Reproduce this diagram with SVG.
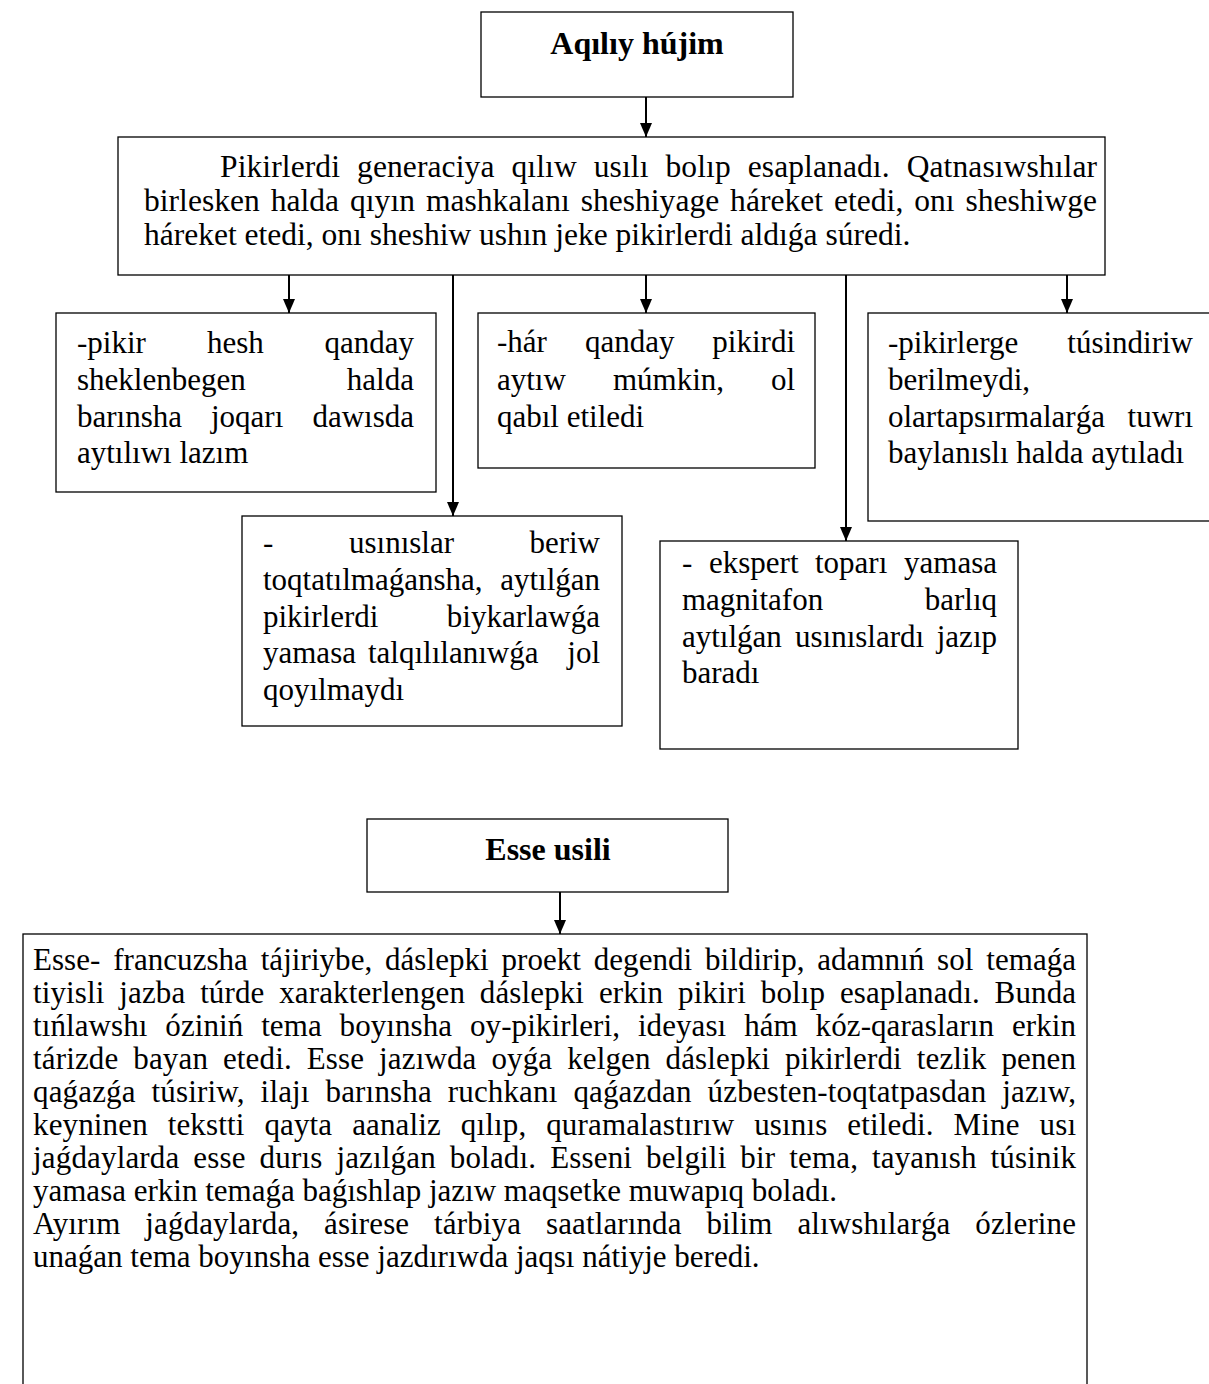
<svg xmlns="http://www.w3.org/2000/svg" width="1209" height="1384" viewBox="0 0 1209 1384">
<defs>
<style>
.box{fill:#fff;stroke:#000;stroke-width:1.3}
.t{font-family:"Liberation Serif","Times New Roman",serif;font-size:31px;fill:#000}
.m{font-family:"Liberation Serif","Times New Roman",serif;font-size:31.5px;fill:#000}
.b{font-family:"Liberation Serif","Times New Roman",serif;font-size:32px;font-weight:bold;fill:#000}
.e{text-anchor:end}
.c{text-anchor:middle}
.con{stroke:#000;stroke-width:2;fill:none}
</style>
<marker id="ah" markerUnits="userSpaceOnUse" markerWidth="14" markerHeight="12" refX="14" refY="6" orient="auto">
<path d="M0,0 L14,6 L0,12 z" fill="#000"/>
</marker>
</defs>
<rect width="1209" height="1384" fill="#fff"/>

<g id="title1">
<rect class="box" x="481" y="12" width="312" height="85"/>
<text class="b c" x="637" y="54">Aqılıy hújim</text>
</g>

<g id="main">
<rect class="box" x="118" y="137" width="987" height="138"/>
<text class="m" x="220" y="177" textLength="877" lengthAdjust="spacing" style="word-spacing:9px">Pikirlerdi generaciya qılıw usılı bolıp esaplanadı. Qatnasıwshılar</text>
<text class="m" x="144" y="211" textLength="953" lengthAdjust="spacing" style="word-spacing:3px">birlesken halda qıyın mashkalanı sheshiyage háreket etedi, onı sheshiwge</text>
<text class="m" x="144" y="245">háreket etedi, onı sheshiw ushın jeke pikirlerdi aldıǵa súredi.</text>
</g>

<g id="box1">
<rect class="box" x="56" y="313" width="380" height="179"/>
<text class="t" x="77" y="353">-pikir</text><text class="t" x="207" y="353">hesh</text><text class="t e" x="414" y="353">qanday</text>
<text class="t" x="77" y="390">sheklenbegen</text><text class="t e" x="414" y="390">halda</text>
<text class="t" x="77" y="427">barınsha</text><text class="t" x="211" y="427">joqarı</text><text class="t e" x="414" y="427">dawısda</text>
<text class="t" x="77" y="463">aytılıwı lazım</text>
</g>

<g id="box2">
<rect class="box" x="478" y="313" width="337" height="155"/>
<text class="t" x="497" y="352">-hár</text><text class="t" x="585" y="352">qanday</text><text class="t e" x="795" y="352">pikirdi</text>
<text class="t" x="497" y="390">aytıw</text><text class="t" x="613" y="390">múmkin,</text><text class="t e" x="795" y="390">ol</text>
<text class="t" x="497" y="427">qabıl etiledi</text>
</g>

<g id="box3">
<rect class="box" x="868" y="313" width="350" height="208"/>
<text class="t" x="888" y="353">-pikirlerge</text><text class="t e" x="1193" y="353">túsindiriw</text>
<text class="t" x="888" y="390">berilmeydi,</text>
<text class="t" x="888" y="427">olartapsırmalarǵa</text><text class="t e" x="1193" y="427">tuwrı</text>
<text class="t" x="888" y="463">baylanıslı halda aytıladı</text>
</g>

<g id="box4">
<rect class="box" x="242" y="516" width="380" height="210"/>
<text class="t" x="263" y="553">-</text><text class="t" x="349" y="553">usınıslar</text><text class="t e" x="600" y="553">beriw</text>
<text class="t" x="263" y="590">toqtatılmaǵansha,</text><text class="t e" x="600" y="590">aytılǵan</text>
<text class="t" x="263" y="627">pikirlerdi</text><text class="t e" x="600" y="627">biykarlawǵa</text>
<text class="t" x="263" y="663">yamasa</text><text class="t" x="368" y="663">talqılılanıwǵa</text><text class="t e" x="600" y="663">jol</text>
<text class="t" x="263" y="700">qoyılmaydı</text>
</g>

<g id="box5">
<rect class="box" x="660" y="541" width="358" height="208"/>
<text class="t" x="682" y="573">-</text><text class="t" x="709" y="573">ekspert</text><text class="t" x="815" y="573">toparı</text><text class="t e" x="997" y="573">yamasa</text>
<text class="t" x="682" y="610">magnitafon</text><text class="t e" x="997" y="610">barlıq</text>
<text class="t" x="682" y="647">aytılǵan</text><text class="t" x="795" y="647">usınıslardı</text><text class="t e" x="997" y="647">jazıp</text>
<text class="t" x="682" y="683">baradı</text>
</g>

<g id="title2">
<rect class="box" x="367" y="819" width="361" height="73"/>
<text class="b c" x="548" y="860">Esse usili</text>
</g>

<g id="essay">
<rect class="box" x="23" y="934" width="1064" height="470"/>
<text class="t" x="33" y="970" textLength="1043" lengthAdjust="spacing" style="word-spacing:5px">Esse- francuzsha tájiriybe, dáslepki proekt degendi bildirip, adamnıń sol temaǵa</text>
<text class="t" x="33" y="1003" textLength="1043" lengthAdjust="spacing" style="word-spacing:7px">tiyisli jazba túrde xarakterlengen dáslepki erkin pikiri bolıp esaplanadı. Bunda</text>
<text class="t" x="33" y="1036" textLength="1043" lengthAdjust="spacing" style="word-spacing:10px">tıńlawshı óziniń tema boyınsha oy-pikirleri, ideyası hám kóz-qarasların erkin</text>
<text class="t" x="33" y="1069" textLength="1043" lengthAdjust="spacing" style="word-spacing:7px">tárizde bayan etedi. Esse jazıwda oyǵa kelgen dáslepki pikirlerdi tezlik penen</text>
<text class="t" x="33" y="1102" textLength="1043" lengthAdjust="spacing" style="word-spacing:8px">qaǵazǵa túsiriw, ilajı barınsha ruchkanı qaǵazdan úzbesten-toqtatpasdan jazıw,</text>
<text class="t" x="33" y="1135" textLength="1043" lengthAdjust="spacing" style="word-spacing:12px">keyninen tekstti qayta aanaliz qılıp, quramalastırıw usınıs etiledi. Mine usı</text>
<text class="t" x="33" y="1168" textLength="1043" lengthAdjust="spacing" style="word-spacing:6px">jaǵdaylarda esse durıs jazılǵan boladı. Esseni belgili bir tema, tayanısh túsinik</text>
<text class="t" x="33" y="1201">yamasa erkin temaǵa baǵıshlap jazıw maqsetke muwapıq boladı.</text>
<text class="t" x="33" y="1234" textLength="1043" lengthAdjust="spacing" style="word-spacing:17px">Ayırım jaǵdaylarda, ásirese tárbiya saatlarında bilim alıwshılarǵa ózlerine</text>
<text class="t" x="33" y="1267">unaǵan tema boyınsha esse jazdırıwda jaqsı nátiyje beredi.</text>
</g>

<g id="connectors">
<path class="con" d="M646,97 V137" marker-end="url(#ah)"/>
<path class="con" d="M289,275 V313" marker-end="url(#ah)"/>
<path class="con" d="M453,275 V516" marker-end="url(#ah)"/>
<path class="con" d="M646,275 V313" marker-end="url(#ah)"/>
<path class="con" d="M846,275 V541" marker-end="url(#ah)"/>
<path class="con" d="M1067,275 V313" marker-end="url(#ah)"/>
<path class="con" d="M560,892 V934" marker-end="url(#ah)"/>
</g>
</svg>
